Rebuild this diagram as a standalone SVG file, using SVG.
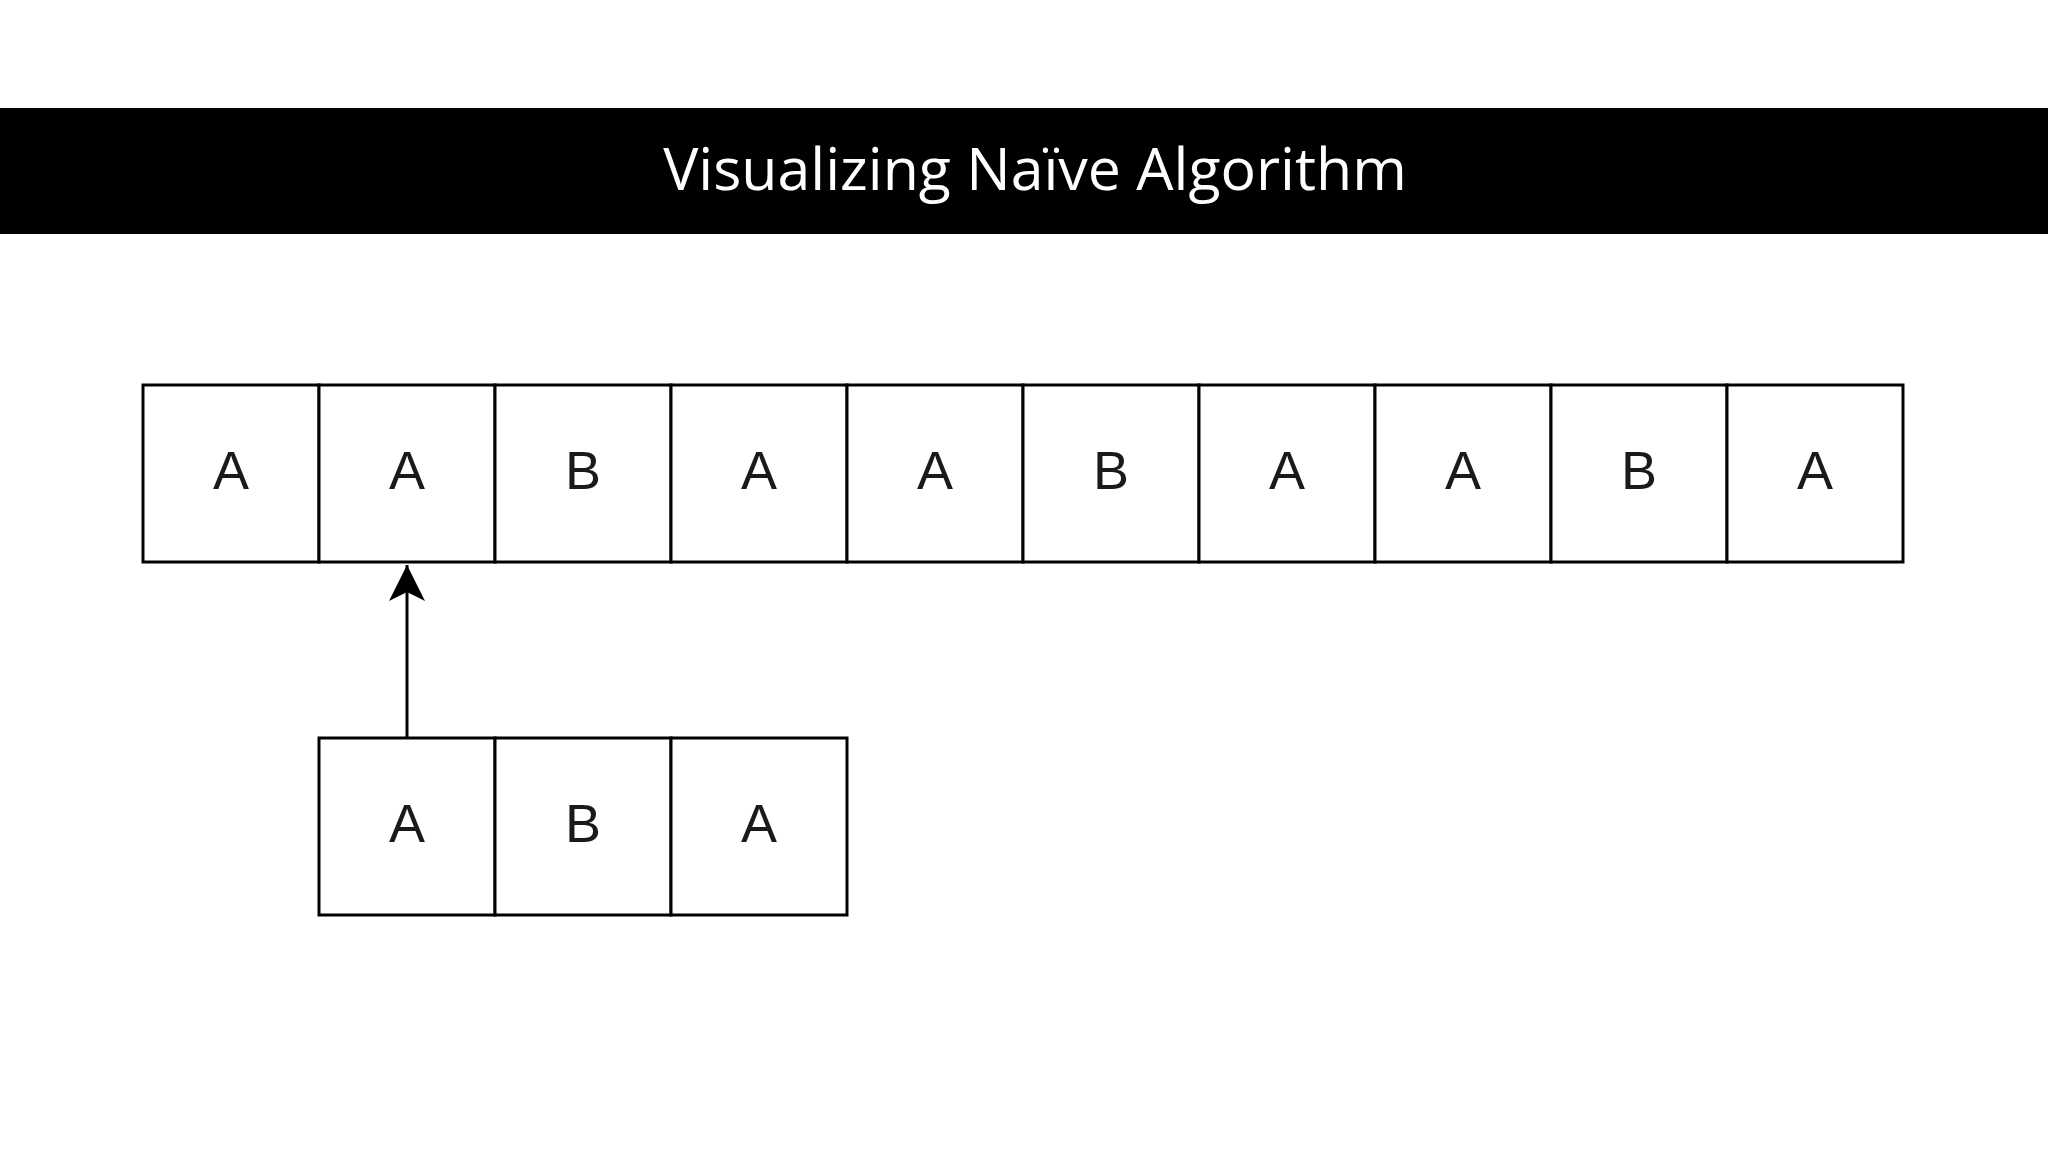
<svg xmlns="http://www.w3.org/2000/svg" width="2048" height="1152" viewBox="0 0 2048 1152">
  <defs>
    <style>
      .cell { fill: #ffffff; stroke: #000000; stroke-width: 3; }
      .lbl { font-family: "Liberation Sans", Arial, sans-serif; font-size: 54px; fill: #1a1a1a; text-anchor: middle; }
      .title { font-family: "Open Sans", "Noto Sans", sans-serif; font-size: 59px; fill: #ffffff; text-anchor: middle; }
      .conn { stroke: #000000; stroke-width: 3; fill: none; }
    </style>
    <marker id="arrow" markerUnits="userSpaceOnUse" markerWidth="40" markerHeight="40" refX="36" refY="18" orient="auto" viewBox="0 0 40 36">
      <path d="M0,0 L36,18 L0,36 L9,18 Z" fill="#000000"/>
    </marker>
  </defs>
  <rect width="2048" height="1152" fill="#ffffff"/>
  <g id="title">
    <rect x="0" y="108" width="2048" height="126" fill="#000000"/>
    <text class="title" x="1035" y="190">Visualizing Naïve Algorithm</text>
  </g>
  <g id="text-row">
    <g id="t0"><rect class="cell" x="143" y="385" width="176" height="177"/><text class="lbl" x="231" y="489">A</text></g>
    <g id="t1"><rect class="cell" x="319" y="385" width="176" height="177"/><text class="lbl" x="407" y="489">A</text></g>
    <g id="t2"><rect class="cell" x="495" y="385" width="176" height="177"/><text class="lbl" x="583" y="489">B</text></g>
    <g id="t3"><rect class="cell" x="671" y="385" width="176" height="177"/><text class="lbl" x="759" y="489">A</text></g>
    <g id="t4"><rect class="cell" x="847" y="385" width="176" height="177"/><text class="lbl" x="935" y="489">A</text></g>
    <g id="t5"><rect class="cell" x="1023" y="385" width="176" height="177"/><text class="lbl" x="1111" y="489">B</text></g>
    <g id="t6"><rect class="cell" x="1199" y="385" width="176" height="177"/><text class="lbl" x="1287" y="489">A</text></g>
    <g id="t7"><rect class="cell" x="1375" y="385" width="176" height="177"/><text class="lbl" x="1463" y="489">A</text></g>
    <g id="t8"><rect class="cell" x="1551" y="385" width="176" height="177"/><text class="lbl" x="1639" y="489">B</text></g>
    <g id="t9"><rect class="cell" x="1727" y="385" width="176" height="177"/><text class="lbl" x="1815" y="489">A</text></g>
  </g>
  <g id="pattern-row">
    <g id="p0"><rect class="cell" x="319" y="738" width="176" height="177"/><text class="lbl" x="407" y="842">A</text></g>
    <g id="p1"><rect class="cell" x="495" y="738" width="176" height="177"/><text class="lbl" x="583" y="842">B</text></g>
    <g id="p2"><rect class="cell" x="671" y="738" width="176" height="177"/><text class="lbl" x="759" y="842">A</text></g>
  </g>
  <g id="connectors">
    <line class="conn" x1="407" y1="738" x2="407" y2="565" marker-end="url(#arrow)"/>
  </g>
</svg>
